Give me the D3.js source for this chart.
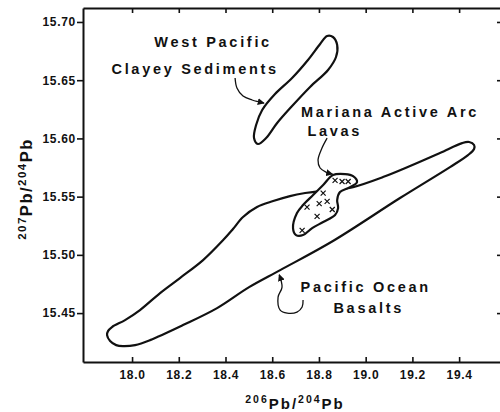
<!DOCTYPE html>
<html>
<head>
<meta charset="utf-8">
<script src="https://cdn.jsdelivr.net/npm/d3@7"></script>
<style>
  body { margin: 0; background: #fff; }
  svg { display: block; }
  text { font-family: "Liberation Sans", Arial, sans-serif; fill: #111; }
</style>
</head>
<body>
<svg id="chart" width="500" height="412"></svg>
<script>
// Axis ticks
const xTicks = [18.0, 18.2, 18.4, 18.6, 18.8, 19.0, 19.2, 19.4];
const yTicks = [15.45, 15.50, 15.55, 15.60, 15.65, 15.70];

// Field outlines, [206Pb/204Pb, 207Pb/204Pb]
const basaltField = [
  [17.893, 15.431], [17.906, 15.426], [17.932, 15.4225], [17.961, 15.4216],
  [18.013, 15.4225], [18.077, 15.4268], [18.218, 15.4397], [18.364, 15.4543],
  [18.501, 15.4723], [18.634, 15.4869], [18.860, 15.5119], [19.147, 15.5488],
  [19.361, 15.5754], [19.438, 15.5857], [19.464, 15.5909], [19.464, 15.5943],
  [19.443, 15.5969], [19.413, 15.5960], [19.318, 15.5875], [19.190, 15.5763],
  [19.074, 15.5668], [18.946, 15.5582], [18.869, 15.5557], [18.805, 15.5548],
  [18.741, 15.5531], [18.676, 15.5505], [18.604, 15.5462], [18.535, 15.5411],
  [18.475, 15.5325], [18.432, 15.5222], [18.390, 15.5127], [18.304, 15.4955],
  [18.205, 15.4801], [18.120, 15.4672], [18.034, 15.4526], [17.970, 15.4440],
  [17.914, 15.4380], [17.897, 15.4345]
];

const arcLavaField = [
  [18.860, 15.5686], [18.912, 15.5694], [18.946, 15.5677], [18.963, 15.5625],
  [18.933, 15.5582], [18.890, 15.5539], [18.878, 15.5471], [18.882, 15.5402],
  [18.869, 15.5342], [18.818, 15.5282], [18.771, 15.5230], [18.732, 15.5170],
  [18.702, 15.5170], [18.689, 15.5230], [18.706, 15.5359], [18.732, 15.5428],
  [18.775, 15.5514], [18.818, 15.5600]
];

const sedimentField = [
  [18.835, 15.6880], [18.860, 15.6871], [18.878, 15.6802], [18.873, 15.6699],
  [18.839, 15.6588], [18.762, 15.6442], [18.685, 15.6278], [18.621, 15.6132],
  [18.574, 15.6003], [18.539, 15.5952], [18.522, 15.6003], [18.531, 15.6115],
  [18.557, 15.6244], [18.612, 15.6381], [18.685, 15.6519], [18.753, 15.6674],
  [18.805, 15.6811]
];

// Individual Mariana arc lava analyses
const arcLavaSamples = [
  [18.869, 15.564], [18.899, 15.563], [18.925, 15.563], [18.818, 15.553],
  [18.801, 15.544], [18.835, 15.546], [18.749, 15.541], [18.792, 15.533],
  [18.857, 15.539], [18.728, 15.521]
];

// Leader lines from labels to fields
const sedimentLeader = [[18.441, 15.6519], [18.449, 15.6433], [18.475, 15.6364], [18.514, 15.6330], [18.565, 15.6304]];
const arcLeader = [[18.835, 15.6003], [18.813, 15.5918], [18.796, 15.5814], [18.805, 15.5746], [18.830, 15.5711], [18.858, 15.5694]];
const basaltLeader = [[18.732, 15.4612], [18.728, 15.4552], [18.706, 15.4509], [18.664, 15.4500], [18.634, 15.4526], [18.625, 15.4637], [18.642, 15.4723], [18.630, 15.4830]];

// Field labels: text, x, y (label centre)
const fieldLabels = [
  ["West Pacific", 18.347, 15.6828],
  ["Clayey Sediments", 18.270, 15.6596],
  ["Mariana Active Arc", 19.104, 15.6227],
  ["Lavas", 18.868, 15.6063],
  ["Pacific Ocean", 19.000, 15.4725],
  ["Basalts", 19.013, 15.4545]
];

const svg = d3.select("#chart");
const x = d3.scaleLinear().domain([17.79, 19.575]).range([83, 500]);
const y = d3.scaleLinear().domain([15.408, 15.712]).range([362, 8]);
const ink = "#111";

const defs = svg.append("defs");
defs.append("marker")
  .attr("id", "arrow").attr("viewBox", "0 0 10 10")
  .attr("refX", 9).attr("refY", 5)
  .attr("markerWidth", 7).attr("markerHeight", 7)
  .attr("markerUnits", "userSpaceOnUse")
  .attr("orient", "auto")
  .append("path").attr("d", "M0,0 L10,5 L0,10 Z").attr("fill", ink);

// Axes
function styleAxis(g) {
  g.selectAll(".domain").attr("stroke", ink).attr("stroke-width", 2);
  g.selectAll(".tick line").attr("stroke", ink).attr("stroke-width", 1.6);
  g.selectAll(".tick text")
    .style("font-family", "'Liberation Sans', Arial, sans-serif")
    .style("font-size", "12px").style("font-weight", "bold")
    .style("letter-spacing", "0.7px").attr("fill", ink);
}

svg.append("g").attr("transform", "translate(0,362)")
  .call(d3.axisBottom(x).tickValues(xTicks).tickFormat(d3.format(".1f"))
    .tickSize(-5).tickSizeOuter(0).tickPadding(8))
  .call(styleAxis);

svg.append("g").attr("transform", "translate(0,8)")
  .call(d3.axisTop(x).tickValues(xTicks).tickFormat("")
    .tickSize(-5).tickSizeOuter(0))
  .call(styleAxis);

svg.append("g").attr("transform", "translate(83,0)")
  .call(d3.axisLeft(y).tickValues(yTicks).tickFormat(d3.format(".2f"))
    .tickSize(6).tickSizeOuter(0).tickPadding(1))
  .call(styleAxis);

const right = svg.append("g").attr("transform", "translate(500,0)")
  .call(d3.axisRight(y).tickValues(yTicks).tickFormat("").tickSize(-3).tickSizeOuter(0))
  .call(styleAxis);
right.select(".domain").remove();

// Fields
const closedLine = d3.line().x(d => x(d[0])).y(d => y(d[1])).curve(d3.curveCatmullRomClosed.alpha(0.5));
const openLine = d3.line().x(d => x(d[0])).y(d => y(d[1])).curve(d3.curveCatmullRom.alpha(0.5));

svg.append("path").datum(basaltField).attr("d", closedLine)
  .attr("fill", "none").attr("stroke", ink).attr("stroke-width", 2.2);
svg.append("path").datum(sedimentField).attr("d", closedLine)
  .attr("fill", "none").attr("stroke", ink).attr("stroke-width", 2.2);
svg.append("path").datum(arcLavaField).attr("d", closedLine)
  .attr("fill", "#fff").attr("stroke", ink).attr("stroke-width", 2.2);

// Sample crosses
svg.append("g").selectAll("path").data(arcLavaSamples).join("path")
  .attr("transform", d => `translate(${x(d[0])},${y(d[1])})`)
  .attr("d", "M-2.5,-2.5L2.5,2.5M-2.5,2.5L2.5,-2.5")
  .attr("stroke", ink).attr("stroke-width", 1.2).attr("fill", "none");

// Leaders
[sedimentLeader, arcLeader, basaltLeader].forEach(pts => {
  svg.append("path").datum(pts).attr("d", openLine)
    .attr("fill", "none").attr("stroke", ink).attr("stroke-width", 1.3)
    .attr("marker-end", "url(#arrow)");
});

// Field labels
svg.append("g").selectAll("text").data(fieldLabels).join("text")
  .attr("x", d => x(d[1])).attr("y", d => y(d[2]))
  .attr("text-anchor", "middle").attr("dominant-baseline", "central")
  .style("font-size", "14.5px").style("letter-spacing", "2.7px")
  .style("font-weight", "bold")
  .text(d => d[0]);

// Axis titles with isotope superscripts
function isotopeTitle(g, a, b, big, small, rise, spacing) {
  const t = g.append("text").attr("text-anchor", "middle")
    .style("font-weight", "bold").style("letter-spacing", spacing + "px");
  t.append("tspan").attr("dy", -rise).style("font-size", small + "px").text(a);
  t.append("tspan").attr("dy", rise).style("font-size", big + "px").text("Pb/");
  t.append("tspan").attr("dy", -rise).style("font-size", small + "px").text(b);
  t.append("tspan").attr("dy", rise).style("font-size", big + "px").text("Pb");
  return t;
}
isotopeTitle(svg.append("g").attr("transform", "translate(295,409)"), "206", "204", 15, 10.5, 6, 2);
isotopeTitle(svg.append("g").attr("transform", "translate(32,189) rotate(-90)"), "207", "204", 16.5, 11.5, 6.5, 1.5);
</script>
</body>
</html>
